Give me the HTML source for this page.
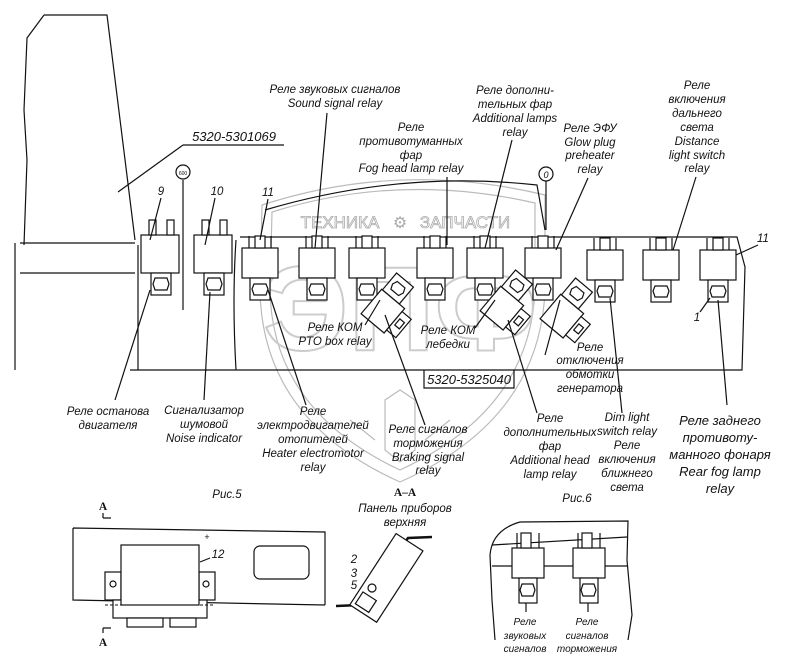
<!DOCTYPE html>
<html><head><meta charset="utf-8"><style>
html,body{margin:0;padding:0;background:#fff;}
svg{display:block;}
text{font-family:"Liberation Sans",sans-serif;font-style:italic;font-size:11.5px;fill:#111;}
.c{text-anchor:middle;}
.w{fill:none;stroke:#bbb;stroke-width:1.2;}
.l{fill:none;stroke:#111;stroke-width:1.2;}
.b{fill:#fff;stroke:#111;stroke-width:1.2;}
</style></head><body>
<svg width="800" height="663" viewBox="0 0 800 663" xmlns="http://www.w3.org/2000/svg">
<defs>
<g id="r1">
<rect class="b" x="-18" y="-12" width="36" height="30"/>
<rect class="b" x="-5" y="-24" width="10" height="12"/>
<line class="l" x1="-11" y1="-24" x2="-11" y2="-12"/><line class="l" x1="11" y1="-24" x2="11" y2="-12"/>
<rect class="b" x="-10" y="18" width="20" height="22"/>
<polygon class="b" points="-6,24 6,24 8,29 6,35 -6,35 -8,29"/>
</g>
<g id="t1">
<rect class="b" x="-14" y="-30" width="22" height="22"/>
<polygon class="b" points="-8,-24 2,-24 4,-19 2,-14 -8,-14 -10,-19"/>
<rect class="b" x="-15" y="-8" width="30" height="32"/>
<rect class="b" x="15" y="-4" width="12" height="24"/>
<rect class="b" x="18" y="3" width="6" height="8"/>
</g>
</defs>
<rect width="800" height="663" fill="#fff"/>
<!-- watermark -->
<path class="w" d="M262,205 Q400,160 545,195 L545,290 Q540,420 400,482 Q262,420 260,290 Z"/>
<path class="w" d="M272,212 Q400,172 535,203 L535,290 Q530,410 400,470 Q272,410 270,290 Z"/>
<text x="340" y="228" class="c" style="font-style:normal;font-size:17px;fill:#fff;stroke:#aaa;stroke-width:0.8">ТЕХНИКА</text>
<text x="400" y="228" class="c" style="font-style:normal;font-size:16px;fill:#aaa">⚙</text>
<text x="465" y="228" class="c" style="font-style:normal;font-size:17px;fill:#fff;stroke:#aaa;stroke-width:0.8">ЗАПЧАСТИ</text>
<text x="400" y="350" class="c" style="font-style:normal;font-size:120px;font-weight:bold;fill:none;stroke:#ccc;stroke-width:2">ЭПФ</text>
<path class="w" d="M385,400 l15,-10 l15,10 v50 l-15,12 l-15,-12 z M350,420 l25,20 M450,420 l-25,20"/>
<!-- left panel -->
<path class="l" d="M44,15 L107,15 L135,240 M44,15 L27,38 L24,110 L27,160 L24,245 M20,243 L135,243 M20,273 L135,273 M15,243 L15,370"/>
<path class="l" d="M183,180 L183,310 M138,245 L138,370 M236,240 Q232,300 236,370"/>
<circle class="b" cx="183" cy="172" r="7"/><text x="183" y="175" class="c" style="font-size:5px;font-style:normal">600</text>
<!-- main panel -->
<path class="l" d="M240,237 L737,237 L745,267 L742,370 L130,370"/>
<path class="l" d="M265,210 Q400,170 537,185 L545,230"/>
<circle class="b" cx="546" cy="174" r="7"/><text x="546" y="178" class="c" style="font-size:9px">0</text>
<line class="l" x1="546" y1="181" x2="546" y2="230"/>
<!-- upright relays -->
<g transform="translate(161,245)"><rect class="b" x="-20" y="-10" width="38" height="38"/><rect class="b" x="-12" y="-25" width="7" height="15"/><rect class="b" x="6" y="-25" width="7" height="15"/><rect class="b" x="-10" y="28" width="20" height="22"/><polygon class="b" points="-6,33 6,33 8,39 6,45 -6,45 -8,39"/></g>
<g transform="translate(214,245)"><rect class="b" x="-20" y="-10" width="38" height="38"/><rect class="b" x="-12" y="-25" width="7" height="15"/><rect class="b" x="6" y="-25" width="7" height="15"/><rect class="b" x="-10" y="28" width="20" height="22"/><polygon class="b" points="-6,33 6,33 8,39 6,45 -6,45 -8,39"/></g>
<use href="#r1" transform="translate(260,260)"/>
<use href="#r1" transform="translate(317,260)"/>
<use href="#r1" transform="translate(367,260)"/>
<use href="#r1" transform="translate(435,260)"/>
<use href="#r1" transform="translate(485,260)"/>
<use href="#r1" transform="translate(543,260)"/>
<use href="#r1" transform="translate(605,262)"/>
<use href="#r1" transform="translate(661,262)"/>
<use href="#r1" transform="translate(718,262)"/>
<!-- tilted relays -->
<use href="#t1" transform="translate(388,305) rotate(40)"/>
<use href="#t1" transform="translate(507,302) rotate(40)"/>
<use href="#t1" transform="translate(567,310) rotate(40)"/>
<!-- top labels -->
<text x="335" y="93" class="c">Реле звуковых сигналов</text>
<text x="335" y="107" class="c">Sound signal relay</text>
<line class="l" x1="327" y1="113" x2="315" y2="248"/>
<text x="234" y="141" class="c" style="font-size:13px">5320-5301069</text>
<line class="l" x1="183" y1="145" x2="284" y2="145"/>
<line class="l" x1="183" y1="145" x2="118" y2="192"/>
<text x="411" y="131" class="c">Реле</text>
<text x="411" y="145" class="c">противотуманных</text>
<text x="411" y="159" class="c">фар</text>
<text x="411" y="172" class="c">Fog head lamp relay</text>
<line class="l" x1="447" y1="177" x2="447" y2="245"/>
<text x="515" y="94" class="c">Реле дополни-</text>
<text x="515" y="108" class="c">тельных фар</text>
<text x="515" y="122" class="c">Additional lamps</text>
<text x="515" y="136" class="c">relay</text>
<line class="l" x1="512" y1="140" x2="485" y2="248"/>
<text x="590" y="132" class="c">Реле ЭФУ</text>
<text x="590" y="146" class="c">Glow plug</text>
<text x="590" y="159" class="c">preheater</text>
<text x="590" y="173" class="c">relay</text>
<line class="l" x1="588" y1="178" x2="556" y2="250"/>
<text x="697" y="89" class="c">Реле</text>
<text x="697" y="103" class="c">включения</text>
<text x="697" y="117" class="c">дальнего</text>
<text x="697" y="131" class="c">света</text>
<text x="697" y="145" class="c">Distance</text>
<text x="697" y="159" class="c">light switch</text>
<text x="697" y="172" class="c">relay</text>
<line class="l" x1="696" y1="177" x2="673" y2="250"/>
<text x="161" y="195" class="c">9</text>
<line class="l" x1="161" y1="198" x2="150" y2="240"/>
<text x="217" y="195" class="c">10</text>
<line class="l" x1="215" y1="198" x2="205" y2="245"/>
<text x="268" y="196" class="c">11</text>
<line class="l" x1="268" y1="199" x2="260" y2="240"/>
<text x="763" y="242" class="c">11</text>
<line class="l" x1="758" y1="245" x2="736" y2="255"/>
<text x="697" y="321" class="c">1</text>
<line class="l" x1="700" y1="312" x2="710" y2="298"/>
<!-- mid labels -->
<text x="335" y="331" class="c">Реле КОМ</text>
<text x="335" y="345" class="c">PTO box relay</text>
<line class="l" x1="365" y1="325" x2="380" y2="300"/>
<text x="448" y="334" class="c">Реле КОМ</text>
<text x="448" y="348" class="c">лебедки</text>
<line class="l" x1="475" y1="328" x2="495" y2="300"/>
<text x="590" y="351" class="c">Реле</text>
<text x="590" y="364" class="c">отключения</text>
<text x="590" y="378" class="c">обмотки</text>
<text x="590" y="392" class="c">генератора</text>
<line class="l" x1="545" y1="355" x2="560" y2="300"/>
<text x="469" y="384" class="c" style="font-size:13px">5320-5325040</text>
<path class="l" d="M424,370 L424,388 L514,388 L514,370"/>
<!-- bottom labels & leaders -->
<line class="l" x1="115" y1="400" x2="150" y2="290"/>
<text x="108" y="415" class="c">Реле останова</text>
<text x="108" y="429" class="c">двигателя</text>
<line class="l" x1="204" y1="400" x2="210" y2="292"/>
<text x="204" y="414" class="c">Сигнализатор</text>
<text x="204" y="428" class="c">шумовой</text>
<text x="204" y="442" class="c">Noise indicator</text>
<line class="l" x1="306" y1="405" x2="268" y2="290"/>
<text x="313" y="415" class="c">Реле</text>
<text x="313" y="429" class="c">электродвигателей</text>
<text x="313" y="443" class="c">отопителей</text>
<text x="313" y="457" class="c">Heater electromotor</text>
<text x="313" y="471" class="c">relay</text>
<line class="l" x1="425" y1="425" x2="385" y2="315"/>
<text x="428" y="433" class="c">Реле сигналов</text>
<text x="428" y="447" class="c">торможения</text>
<text x="428" y="461" class="c">Braking signal</text>
<text x="428" y="474" class="c">relay</text>
<line class="l" x1="537" y1="413" x2="508" y2="320"/>
<text x="550" y="422" class="c">Реле</text>
<text x="550" y="436" class="c">дополнительных</text>
<text x="550" y="450" class="c">фар</text>
<text x="550" y="464" class="c">Additional head</text>
<text x="550" y="478" class="c">lamp relay</text>
<line class="l" x1="622" y1="413" x2="610" y2="298"/>
<text x="627" y="421" class="c">Dim light</text>
<text x="627" y="435" class="c">switch relay</text>
<text x="627" y="449" class="c">Реле</text>
<text x="627" y="463" class="c">включения</text>
<text x="627" y="477" class="c">ближнего</text>
<text x="627" y="491" class="c">света</text>
<line class="l" x1="727" y1="405" x2="718" y2="300"/>
<text x="720" y="425" class="c" style="font-size:13px">Реле заднего</text>
<text x="720" y="442" class="c" style="font-size:13px">противоту-</text>
<text x="720" y="459" class="c" style="font-size:13px">манного фонаря</text>
<text x="720" y="476" class="c" style="font-size:13px">Rear fog lamp</text>
<text x="720" y="493" class="c" style="font-size:13px">relay</text>
<text x="227" y="498" class="c">Рис.5</text>
<text x="405" y="496" class="c" style="font-style:normal;font-weight:bold;font-family:'Liberation Serif',serif">А–А</text>
<text x="577" y="502" class="c">Рис.6</text>
<!-- Fig 5 -->
<text x="103" y="510" class="c" style="font-style:normal;font-weight:bold;font-family:'Liberation Serif',serif">А</text>
<path class="l" d="M103,513 L103,518 M103,518 L111,518"/>
<path class="l" d="M103,628 L103,633 M103,628 L111,628"/>
<text x="103" y="646" class="c" style="font-style:normal;font-weight:bold;font-family:'Liberation Serif',serif">А</text>
<path class="l" d="M73,528 L325,532 L325,605 M73,528 L73,600 L325,605"/>
<text x="207" y="540" class="c" style="font-style:normal;font-size:9px">+</text>
<rect class="b" x="105" y="572" width="16" height="28"/>
<rect class="b" x="199" y="572" width="16" height="28"/>
<circle class="b" cx="113" cy="584" r="3"/><circle class="b" cx="206" cy="584" r="3"/>
<rect class="b" x="113" y="600" width="94" height="18"/>
<rect class="b" x="121" y="545" width="78" height="60"/>
<line x1="105" y1="605" x2="215" y2="605" stroke="#111" stroke-dasharray="3,2"/>
<rect class="b" x="127" y="618" width="36" height="9"/><rect class="b" x="170" y="618" width="26" height="9"/>
<rect class="b" x="254" y="546" width="55" height="33" rx="6"/>
<text x="218" y="558" class="c">12</text>
<line class="l" x1="200" y1="562" x2="210" y2="558"/>
<!-- A-A -->
<text x="405" y="512" class="c">Панель приборов</text>
<text x="405" y="526" class="c">верхняя</text>
<path d="M336,606 L360,605 L408,538 L432,537" fill="none" stroke="#111" stroke-width="2.5"/>
<g transform="translate(385,580) rotate(33)"><rect class="b" x="-16" y="-45" width="32" height="85"/><rect class="b" x="-12" y="22" width="16" height="14"/></g>
<text x="354" y="563" class="c">2</text>
<text x="354" y="577" class="c">3</text>
<text x="354" y="589" class="c">5</text>
<circle class="b" cx="372" cy="588" r="4"/>
<!-- Fig 6 -->
<path class="l" d="M490,555 Q492,530 520,522 L628,521 L627,560 L632,615 L628,640 M490,555 L492,600 L495,640"/>
<path class="l" d="M492,545 L627,537 M492,566 L627,566"/>
<g transform="translate(527,560)"><rect class="b" x="-15" y="-12" width="32" height="30"/><rect class="b" x="-6" y="-27" width="10" height="15"/><line class="l" x1="-10" y1="-27" x2="-10" y2="-12"/><line class="l" x1="12" y1="-27" x2="12" y2="-12"/><rect class="b" x="-8" y="18" width="18" height="25"/><polygon class="b" points="-5,24 6,24 8,30 6,36 -5,36 -7,30"/></g>
<g transform="translate(588,560)"><rect class="b" x="-15" y="-12" width="32" height="30"/><rect class="b" x="-6" y="-27" width="10" height="15"/><line class="l" x1="-10" y1="-27" x2="-10" y2="-12"/><line class="l" x1="12" y1="-27" x2="12" y2="-12"/><rect class="b" x="-8" y="18" width="18" height="25"/><polygon class="b" points="-5,24 6,24 8,30 6,36 -5,36 -7,30"/></g>
<line class="l" x1="526" y1="603" x2="526" y2="612"/><line class="l" x1="588" y1="603" x2="588" y2="612"/>
<text x="525" y="625" class="c" style="font-size:10px">Реле</text>
<text x="525" y="639" class="c" style="font-size:10px">звуковых</text>
<text x="525" y="652" class="c" style="font-size:10px">сигналов</text>
<text x="587" y="625" class="c" style="font-size:10px">Реле</text>
<text x="587" y="639" class="c" style="font-size:10px">сигналов</text>
<text x="587" y="652" class="c" style="font-size:10px">торможения</text>
</svg>
</body></html>
